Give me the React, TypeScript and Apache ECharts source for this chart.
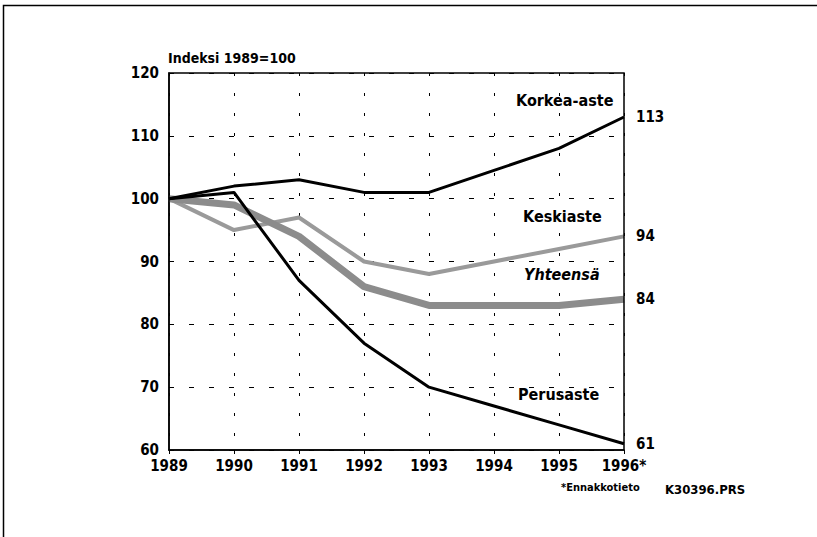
import React, { useEffect, useRef } from "react";
import * as echarts from "echarts";

const years = ["1989", "1990", "1991", "1992", "1993", "1994", "1995", "1996*"];
const korkea = [100, 102, 103, 101, 101, 104.5, 108, 113];
const keski = [100, 95, 97, 90, 88, 90, 92, 94];
const yhteensa = [100, 99, 94, 86, 83, 83, 83, 84];
const perus = [100, 101, 87, 77, 70, 67, 64, 61];
const endLabels = ["113", "94", "84", "61"];

const FONT = "'DejaVu Sans Condensed', 'Liberation Sans Narrow', 'Liberation Sans', Arial, sans-serif";

export default function App() {
  const ref = useRef<HTMLDivElement>(null);
  useEffect(() => {
    if (!ref.current) return;
    const chart = echarts.init(ref.current, undefined, { renderer: "svg" });
    const mk = (name: string, data: number[], color: string, width: number, idx: number, z: number) => ({
      name,
      type: "line",
      data,
      symbol: "none",
      z,
      lineStyle: { color, width, cap: "butt", join: "round" },
      endLabel: {
        show: true,
        formatter: () => endLabels[idx],
        distance: 12,
        color: "#000",
        fontFamily: FONT,
        fontSize: 15,
        fontWeight: 600,
      },
    });
    chart.setOption({
      animation: false,
      backgroundColor: "#fff",
      grid: { left: 169, top: 73, width: 455, height: 377, containLabel: false },
      xAxis: {
        type: "category",
        data: years,
        boundaryGap: false,
        axisLine: { show: true, lineStyle: { color: "#000", width: 1.5 } },
        axisTick: { show: true, inside: false, length: 4, lineStyle: { color: "#000" } },
        axisLabel: { color: "#000", fontFamily: FONT, fontSize: 15, fontWeight: 600, margin: 8 },
        splitLine: { show: true, lineStyle: { color: "#000", width: 1, type: [3, 17] } },
      },
      yAxis: {
        type: "value",
        min: 60,
        max: 120,
        interval: 10,
        name: "Indeksi 1989=100",
        nameLocation: "end",
        nameGap: 8,
        nameTextStyle: { color: "#000", fontFamily: FONT, fontSize: 14, fontWeight: 600, align: "left", padding: [0, 0, 0, -1] },
        axisLine: { show: true, lineStyle: { color: "#000", width: 1.5 } },
        axisTick: { show: false },
        axisLabel: { color: "#000", fontFamily: FONT, fontSize: 15, fontWeight: 600, margin: 10 },
        splitLine: { show: true, lineStyle: { color: "#000", width: 1, type: [5, 15] } },
      },
      series: [
        mk("Korkea-aste", korkea, "#000", 3, 0, 5),
        mk("Keskiaste", keski, "#9a9a9a", 4, 1, 3),
        mk("Yhteensä", yhteensa, "#8c8c8c", 7, 2, 3),
        mk("Perusaste", perus, "#000", 3, 3, 5),
      ],
      graphic: [
        {
          type: "rect",
          shape: { x: 3.5, y: 5.5, width: 900, height: 700 },
          style: { fill: "none", stroke: "#000", lineWidth: 1.5 },
          silent: true,
        },
        {
          type: "rect",
          shape: { x: 169, y: 73, width: 455, height: 377 },
          style: { fill: "none", stroke: "#000", lineWidth: 1.5 },
          silent: true,
          z: 10,
        },
        { type: "text", x: 516, y: 92, style: { text: "Korkea-aste", fontFamily: FONT, fontSize: 16, fontWeight: 600, fill: "#000" } },
        { type: "text", x: 523, y: 208, style: { text: "Keskiaste", fontFamily: FONT, fontSize: 16, fontWeight: 600, fill: "#000" } },
        { type: "text", x: 524, y: 266, style: { text: "Yhteensä", fontFamily: FONT, fontSize: 16, fontWeight: 600, fontStyle: "italic", fill: "#000" } },
        { type: "text", x: 518, y: 386, style: { text: "Perusaste", fontFamily: FONT, fontSize: 16, fontWeight: 600, fill: "#000" } },
        { type: "text", x: 561, y: 482, style: { text: "*Ennakkotieto", fontFamily: FONT, fontSize: 11, fontWeight: 600, fill: "#000" } },
        { type: "text", x: 665, y: 483, style: { text: "K30396.PRS", fontFamily: FONT, fontSize: 13, fontWeight: 600, fill: "#000" } },
      ],
    });
    return () => chart.dispose();
  }, []);
  return <div ref={ref} style={{ position: "fixed", left: 0, top: 0, width: 817, height: 537 }} />;
}
